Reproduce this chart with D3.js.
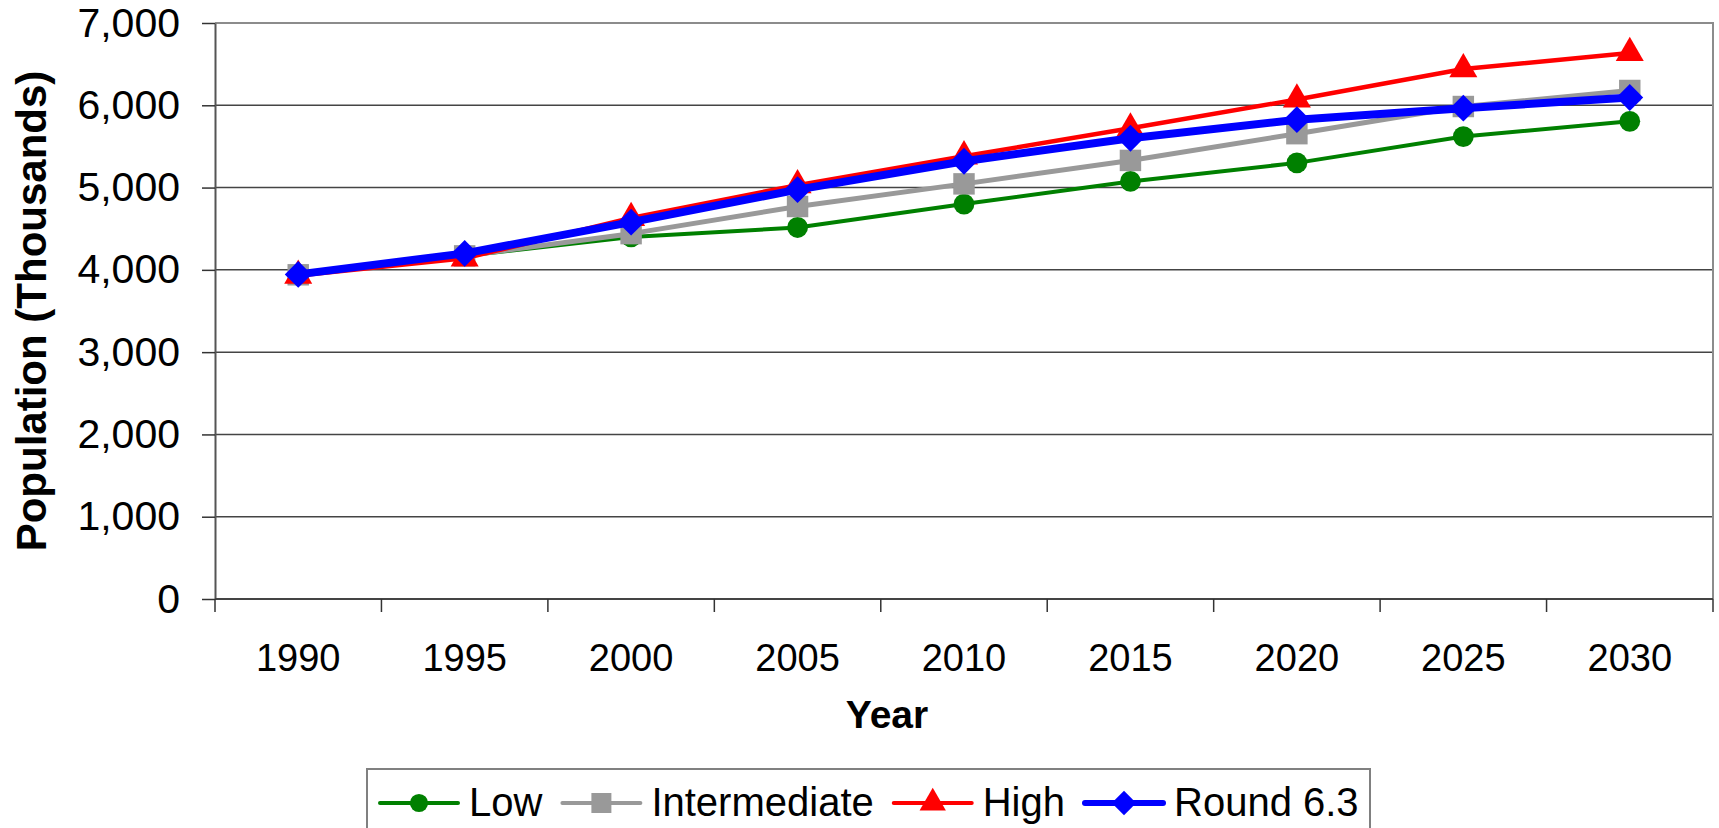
<!DOCTYPE html>
<html>
<head>
<meta charset="utf-8">
<script src="https://cdn.jsdelivr.net/npm/d3@7"></script>
<style>
  body { margin: 0; background: #fff; }
  text { font-family: "Liberation Sans", Arial, sans-serif; fill: #000; }
</style>
</head>
<body>
<div id="chart"></div>
<script>
// chart data
var years = ["1990", "1995", "2000", "2005", "2010", "2015", "2020", "2025", "2030"];
var low = [3940, 4170, 4400, 4515, 4800, 5075, 5300, 5620, 5805];
var intermediate = [3940, 4170, 4440, 4770, 5045, 5330, 5655, 5985, 6180];
var high = [3930, 4140, 4630, 5030, 5380, 5720, 6070, 6440, 6635];
var round63 = [3945, 4200, 4580, 4975, 5320, 5600, 5825, 5965, 6095];
var yTicks = [0, 1000, 2000, 3000, 4000, 5000, 6000, 7000];

var seriesList = [
  {name: "Low", values: low, color: "#008000", width: 4, symbol: d3.symbolCircle, size: 340, legendSize: 260},
  {name: "Intermediate", values: intermediate, color: "#999999", width: 5, symbol: d3.symbolSquare, size: 460, legendSize: 400},
  {name: "High", values: high, color: "#ff0000", width: 4.5, symbol: d3.symbolTriangle, size: 340, legendSize: 300},
  {name: "Round 6.3", values: round63, color: "#0000ff", width: 8, symbol: d3.symbolDiamond2, size: 460, legendSize: 380}
];

var W = 1719, H = 828;
var margin = {top: 23, right: 6, bottom: 229, left: 215},
    width = W - margin.left - margin.right,
    height = H - margin.top - margin.bottom;

var svg = d3.select("#chart")
  .append("svg")
  .attr("width", W)
  .attr("height", H);

var g = svg.append("g")
  .attr("transform", "translate(" + margin.left + "," + margin.top + ")");

var x = d3.scaleBand().domain(years).range([0, width]).padding(0);
var y = d3.scaleLinear().domain([0, 7000]).range([height, 0]);

// gridlines
g.append("g")
  .selectAll("line")
  .data(yTicks.filter(function(d) { return d > 0 && d < 7000; }))
  .join("line")
  .attr("x1", 0).attr("x2", width)
  .attr("y1", function(d) { return y(d); })
  .attr("y2", function(d) { return y(d); })
  .attr("stroke", "#444")
  .attr("stroke-width", 1.5);

// plot border top / right
g.append("path")
  .attr("d", "M0," + y(7000) + "H" + width + "V" + y(0))
  .attr("fill", "none")
  .attr("stroke", "#8c8c8c")
  .attr("stroke-width", 2);

// Y axis
var yAxis = g.append("g")
  .call(d3.axisLeft(y).tickValues(yTicks).tickFormat(d3.format(",")).tickSize(13).tickSizeOuter(0).tickPadding(22));
yAxis.select(".domain").attr("stroke", "#555").attr("stroke-width", 2);
yAxis.selectAll(".tick line").attr("stroke", "#333").attr("stroke-width", 1.5);
yAxis.selectAll("text").attr("font-size", 41).attr("font-family", "Liberation Sans, Arial, sans-serif").attr("fill", "#000");

// X axis: line, ticks at band edges, labels at centers
g.append("line")
  .attr("x1", 0).attr("x2", width)
  .attr("y1", height).attr("y2", height)
  .attr("stroke", "#444").attr("stroke-width", 2);

var edges = years.map(function(d) { return x(d); }).concat([x.range()[1]]);
g.append("g")
  .selectAll("line")
  .data(edges)
  .join("line")
  .attr("x1", function(d) { return d; }).attr("x2", function(d) { return d; })
  .attr("y1", height).attr("y2", height + 13)
  .attr("stroke", "#333").attr("stroke-width", 1.5);

g.append("g")
  .selectAll("text")
  .data(years)
  .join("text")
  .attr("x", function(d) { return x(d) + x.bandwidth() / 2; })
  .attr("y", height + 72)
  .attr("text-anchor", "middle")
  .attr("font-size", 38)
  .text(function(d) { return d; });

// axis titles
svg.append("text")
  .attr("x", 887)
  .attr("y", 728)
  .attr("text-anchor", "middle")
  .attr("font-size", 39)
  .attr("font-weight", "bold")
  .text("Year");

svg.append("text")
  .attr("transform", "translate(46," + (margin.top + height / 2) + ") rotate(-90)")
  .attr("text-anchor", "middle")
  .attr("font-size", 42)
  .attr("font-weight", "bold")
  .text("Population (Thousands)");

// lines and markers
var cx = function(i) { return x(years[i]) + x.bandwidth() / 2; };

seriesList.forEach(function(s) {
  var line = d3.line()
    .x(function(d, i) { return cx(i); })
    .y(function(d) { return y(d); });

  g.append("path")
    .datum(s.values)
    .attr("fill", "none")
    .attr("stroke", s.color)
    .attr("stroke-width", s.width)
    .attr("stroke-linejoin", "round")
    .attr("d", line);

  g.append("g")
    .selectAll("path")
    .data(s.values)
    .join("path")
    .attr("transform", function(d, i) { return "translate(" + cx(i) + "," + y(d) + ")"; })
    .attr("d", d3.symbol().type(s.symbol).size(s.size))
    .attr("fill", s.color);
});

// legend
var legend = svg.append("g");
legend.append("rect")
  .attr("x", 367).attr("y", 769)
  .attr("width", 1003).attr("height", 90)
  .attr("fill", "#fff")
  .attr("stroke", "#808080")
  .attr("stroke-width", 2);

var lx = 380, ly = 803;
seriesList.forEach(function(s) {
  var item = legend.append("g");
  item.append("line")
    .attr("x1", lx).attr("x2", lx + 78)
    .attr("y1", ly).attr("y2", ly)
    .attr("stroke", s.color)
    .attr("stroke-width", s.name == "Round 6.3" ? 6 : 4)
    .attr("stroke-linecap", "round");
  item.append("path")
    .attr("transform", "translate(" + (lx + 39) + "," + ly + ")")
    .attr("d", d3.symbol().type(s.symbol).size(s.legendSize))
    .attr("fill", s.color);
  var t = item.append("text")
    .attr("x", lx + 89)
    .attr("y", 816)
    .attr("font-size", 40)
    .text(s.name);
  lx = lx + 89 + t.node().getComputedTextLength() + 20;
});
</script>
</body>
</html>
